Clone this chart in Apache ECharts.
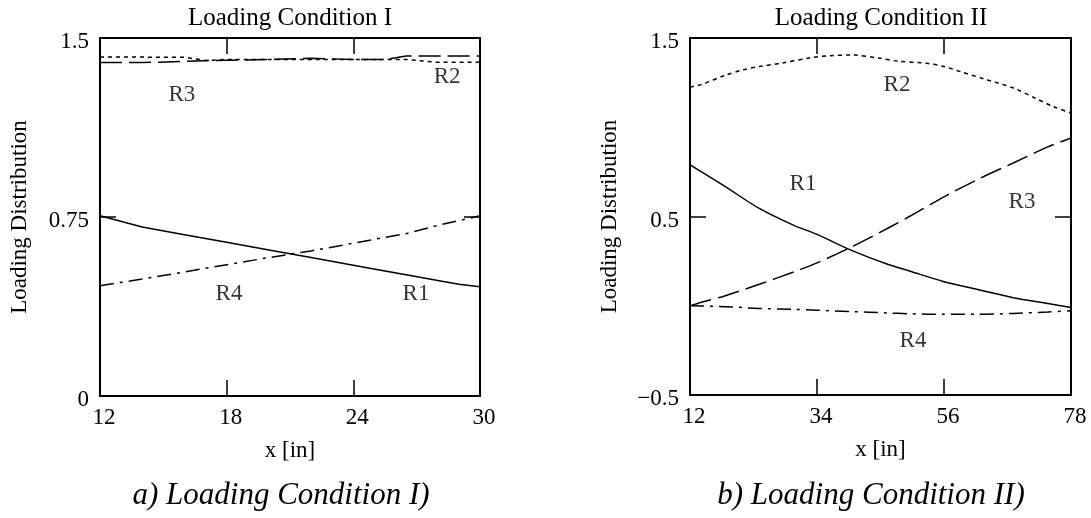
<!DOCTYPE html>
<html><head><meta charset="utf-8">
<script src="https://cdn.jsdelivr.net/npm/echarts@6/dist/echarts.min.js"></script>
<style>html,body{margin:0;padding:0;background:#fff}#c{width:1091px;height:518px}</style>
</head><body><div id="c"></div>
<script>
const FONT = '"Liberation Serif","Times New Roman",serif';

// ---- Chart a) Loading Condition I ----
const xTicksA = [12, 18, 24, 30];
const yTicksA = [0, 0.75, 1.5];
const xA  = [12, 14, 16, 17, 18, 20, 22, 24, 25.5, 26.5, 28, 29, 30];
const r1A = [0.755, 0.708, 0.676, 0.66, 0.644, 0.612, 0.58, 0.548, 0.524, 0.508, 0.484, 0.468, 0.458];
const r2A = [1.42, 1.42, 1.419, 1.406, 1.41, 1.41, 1.41, 1.41, 1.41, 1.41, 1.398, 1.398, 1.398];
const r3A = [1.397, 1.397, 1.402, 1.405, 1.407, 1.41, 1.415, 1.41, 1.41, 1.425, 1.425, 1.425, 1.425];
const r4A = [0.462, 0.49, 0.52, 0.535, 0.55, 0.58, 0.608, 0.64, 0.665, 0.68, 0.715, 0.735, 0.755];
const labNamesA = ['R3', 'R2', 'R4', 'R1'];
const labXA = [15.88, 28.44, 18.11, 26.97];
const labYA = [1.261, 1.337, 0.427, 0.427];

// ---- Chart b) Loading Condition II ----
const xTicksB = [12, 34, 56, 78];
const yTicksB = [-0.5, 0.5, 1.5];
const xR1B = [12, 14, 18, 24, 30, 34, 40, 46, 50, 56, 62, 68, 74, 78];
const r1B  = [0.79, 0.75, 0.67, 0.545, 0.45, 0.40, 0.31, 0.235, 0.195, 0.135, 0.09, 0.045, 0.012, -0.01];
const xR2B = [12, 14, 18, 21, 24, 28, 33, 36, 40, 45, 48, 53, 56, 59, 63, 68, 72, 75, 78];
const r2B  = [1.225, 1.24, 1.29, 1.32, 1.34, 1.36, 1.39, 1.4, 1.405, 1.386, 1.37, 1.358, 1.34, 1.31, 1.27, 1.22, 1.16, 1.115, 1.08];
const xR3B = [12, 14, 18, 24, 30, 34, 40, 46, 50, 56, 62, 68, 74, 78];
const r3B  = [0.0, 0.02, 0.055, 0.12, 0.19, 0.24, 0.33, 0.43, 0.50, 0.61, 0.71, 0.80, 0.89, 0.94];
const xR4B = [12, 18, 24, 30, 34, 40, 46, 50, 56, 62, 68, 74, 78];
const r4B  = [0.0, -0.005, -0.015, -0.02, -0.025, -0.033, -0.04, -0.045, -0.048, -0.048, -0.043, -0.035, -0.028];
const labNamesB = ['R2', 'R1', 'R3', 'R4'];
const labXB = [47.86, 31.57, 69.51, 50.63];
const labYB = [1.237, 0.682, 0.581, -0.197];

const pairs = (xs, ys) => xs.map((x, i) => [x, ys[i]]);
const labelData = (names, xs, ys) => names.map((n, i) => [xs[i], ys[i], n]);

function xAx(grid, min, max, ticks, pos, main) {
  return {
    type: 'value', gridIndex: grid, position: pos, min: min, max: max,
    axisLine: { show: true, onZero: false, lineStyle: { color: '#000', width: 2 } },
    axisTick: { show: true, inside: true, length: 16, customValues: ticks, lineStyle: { color: '#000', width: 1.5 } },
    axisLabel: { show: main, customValues: ticks, color: '#000', fontFamily: FONT, fontSize: 23, margin: 10, padding: [0, 0, 0, 8] },
    splitLine: { show: false },
    name: main ? 'x [in]' : '', nameLocation: 'middle', nameGap: 43,
    nameTextStyle: { color: '#000', fontFamily: FONT, fontSize: 23 }
  };
}
function yAx(grid, min, max, ticks, pos, main) {
  return {
    type: 'value', gridIndex: grid, position: pos, min: min, max: max,
    axisLine: { show: true, onZero: false, lineStyle: { color: '#000', width: 2 } },
    axisTick: { show: true, inside: true, length: 16, customValues: ticks, lineStyle: { color: '#000', width: 1.5 } },
    axisLabel: { show: main, customValues: ticks, color: '#000', fontFamily: FONT, fontSize: 23, margin: 11,
      verticalAlign: 'top', lineHeight: 8,
      formatter: v => String(v).replace('-', '\u2212') },
    splitLine: { show: false },
    name: main ? 'Loading Distribution' : '', nameLocation: 'middle', nameGap: 69, nameRotate: 90,
    nameTextStyle: { color: '#000', fontFamily: FONT, fontSize: 23 }
  };
}
function line(data, xi, yi, type, smooth) {
  return {
    type: 'line', data: data, xAxisIndex: xi, yAxisIndex: yi, showSymbol: false, symbol: 'none',
    smooth: smooth, silent: true,
    lineStyle: { color: '#000', width: 1.5, type: type }
  };
}
function labels(data, xi, yi) {
  return {
    type: 'scatter', data: data, xAxisIndex: xi, yAxisIndex: yi, symbolSize: 1, silent: true,
    itemStyle: { color: 'rgba(0,0,0,0)' },
    label: { show: true, position: 'inside', formatter: p => p.value[2], color: '#000', fontFamily: FONT, fontSize: 23 }
  };
}

const SOLID = 'solid', DOT = [4, 4], DASH = [22, 7], DASHDOT = [14, 6, 3, 6];

const chart = echarts.init(document.getElementById('c'), null, { renderer: 'canvas' });
chart.setOption({
  backgroundColor: '#fff',
  animation: false,
  grid: [
    { left: 100, top: 38, width: 380, height: 358 },
    { left: 690, top: 38, width: 381, height: 357 }
  ],
  xAxis: [
    xAx(0, 12, 30, xTicksA, 'bottom', true),
    xAx(0, 12, 30, xTicksA, 'top', false),
    xAx(1, 12, 78, xTicksB, 'bottom', true),
    xAx(1, 12, 78, xTicksB, 'top', false)
  ],
  yAxis: [
    yAx(0, 0, 1.5, yTicksA, 'left', true),
    yAx(0, 0, 1.5, yTicksA, 'right', false),
    yAx(1, -0.5, 1.5, yTicksB, 'left', true),
    yAx(1, -0.5, 1.5, yTicksB, 'right', false)
  ],
  series: [
    line(pairs(xA, r1A), 0, 0, SOLID, false),
    line(pairs(xA, r2A), 0, 0, DOT, false),
    line(pairs(xA, r3A), 0, 0, DASH, false),
    line(pairs(xA, r4A), 0, 0, DASHDOT, false),
    labels(labelData(labNamesA, labXA, labYA), 0, 0),
    line(pairs(xR1B, r1B), 2, 2, SOLID, 0.3),
    line(pairs(xR2B, r2B), 2, 2, DOT, 0.3),
    line(pairs(xR3B, r3B), 2, 2, DASH, 0.3),
    line(pairs(xR4B, r4B), 2, 2, DASHDOT, 0.3),
    labels(labelData(labNamesB, labXB, labYB), 2, 2)
  ],
  graphic: [
    { type: 'text', silent: true, style: { text: 'Loading Condition I', x: 290, y: 18, textAlign: 'center', textVerticalAlign: 'middle', font: '25px ' + FONT, fill: '#000' } },
    { type: 'text', silent: true, style: { text: 'Loading Condition II', x: 881, y: 18, textAlign: 'center', textVerticalAlign: 'middle', font: '25px ' + FONT, fill: '#000' } },
    { type: 'text', silent: true, style: { text: 'a) Loading Condition I)', x: 281, y: 496, textAlign: 'center', textVerticalAlign: 'middle', font: 'italic 31px ' + FONT, fill: '#000' } },
    { type: 'text', silent: true, style: { text: 'b) Loading Condition II)', x: 871, y: 496, textAlign: 'center', textVerticalAlign: 'middle', font: 'italic 31px ' + FONT, fill: '#000' } }
  ]
});
</script></body></html>
